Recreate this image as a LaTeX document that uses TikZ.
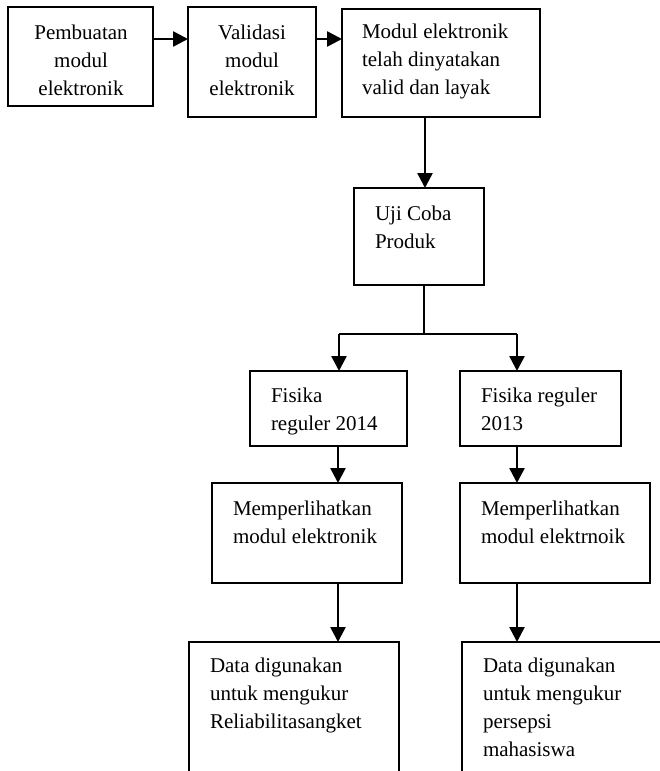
\documentclass[tikz,border=0pt]{standalone}
\usepackage{fontspec}
\setmainfont{Liberation Serif}
\usetikzlibrary{arrows.meta}
\tikzset{
  box/.style={draw, line width=1.8pt, inner sep=0pt, outer sep=0pt},
  txt/.style={inner sep=0pt, outer sep=0pt, font=\fontsize{21}{28}\selectfont},
  arr/.style={line width=2.6pt, -{Triangle[width=15pt,length=15pt]}},
  plain/.style={line width=1.6pt}
}
\newcommand{\lft}[1]{\begin{tabular}[t]{@{}l@{}}#1\end{tabular}}
\newcommand{\ctr}[1]{\begin{tabular}[t]{@{}c@{}}#1\end{tabular}}
\begin{document}
\begin{tikzpicture}[x=1pt,y=-1pt]
\useasboundingbox (0,0) rectangle (660,771);
\begin{scope}
\clip (0,0) rectangle (660,771);
% boxes
\node[box, minimum width=145pt, minimum height=99pt] (b1) at (80.5,56.5) {};
\node[box, minimum width=128pt, minimum height=110pt] (b2) at (252,62) {};
\node[box, minimum width=198pt, minimum height=108pt] (b3) at (441,63) {};
\node[box, minimum width=130pt, minimum height=97pt] (uji) at (419,236.5) {};
\node[box, minimum width=157pt, minimum height=75pt] (f14) at (328.5,408.5) {};
\node[box, minimum width=161pt, minimum height=75pt] (f13) at (540.5,408.5) {};
\node[box, minimum width=190pt, minimum height=100pt] (m1) at (307,533) {};
\node[box, minimum width=190pt, minimum height=100pt] (m2) at (555,533) {};
\node[box, minimum width=210pt, minimum height=158pt] (d1) at (294,721) {};
\node[box, minimum width=238pt, minimum height=158pt] (d2) at (581,721) {};
\end{scope}
% texts
\node[txt, anchor=base] (t1) at (81,39) {\ctr{Pembuatan\\modul\\elektronik}};
\node[txt, anchor=base] (t2) at (252,39) {\ctr{Validasi\\modul\\elektronik}};
\node[txt, anchor=base west] (t3) at (362,38) {\lft{Modul elektronik\\telah dinyatakan\\valid dan layak}};
\node[txt, anchor=base west] (tu) at (375,220) {\lft{Uji Coba\\Produk}};
\node[txt, anchor=base west] (tf14) at (271,402) {\lft{Fisika\\reguler 2014}};
\node[txt, anchor=base west] (tf13) at (481,402) {\lft{Fisika reguler\\2013}};
\node[txt, anchor=base west] (tm1) at (233,515) {\lft{Memperlihatkan\\modul elektronik}};
\node[txt, anchor=base west] (tm2) at (481,515) {\lft{Memperlihatkan\\modul elektrnoik}};
\node[txt, anchor=base west] (td1) at (210,672) {\lft{Data digunakan\\untuk mengukur\\Reliabilitasangket}};
\node[txt, anchor=base west] (td2) at (483,672) {\lft{Data digunakan\\untuk mengukur\\persepsi\\mahasiswa}};
% helper coordinates
\coordinate (row) at (0,39);
\coordinate (c3) at (425,0);
\coordinate (cu) at (424,0);
\coordinate (split) at (0,334);
\coordinate (cl) at (339,0);
\coordinate (cr) at (517,0);
\coordinate (cl2) at (338,0);
% connectors
\draw[arr] (b1.east |- row) -- (b2.west |- row);
\draw[arr] (b2.east |- row) -- (b3.west |- row);
\draw[arr] (b3.south -| c3) -- (uji.north -| c3);
\draw[plain] (uji.south -| cu) -- (cu |- split);
\draw[plain] (cl |- split) -- (cr |- split);
\draw[arr] (cl |- split) -- (f14.north -| cl);
\draw[arr] (cr |- split) -- (f13.north -| cr);
\draw[arr] (f14.south -| cl2) -- (m1.north -| cl2);
\draw[arr] (f13.south -| cr) -- (m2.north -| cr);
\draw[arr] (m1.south -| cl2) -- (d1.north -| cl2);
\draw[arr] (m2.south -| cr) -- (d2.north -| cr);
\end{tikzpicture}
\end{document}
